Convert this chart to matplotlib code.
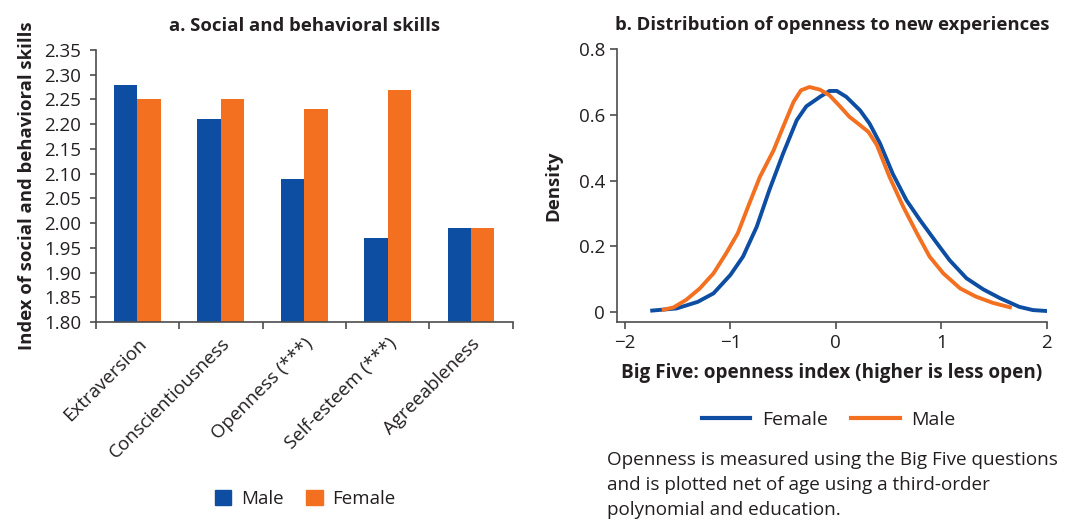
import matplotlib.pyplot as plt
from matplotlib.patches import Patch
from matplotlib.lines import Line2D
import numpy as np

plt.rcParams['font.family'] = ['Open Sans', 'DejaVu Sans']

BLUE = '#0d4ea3'
ORANGE = '#f37021'
TXT = '#231f20'
AXC = '#4d4d4d'
BOLD = 13.3
TICK = 13.5

# panel a: mean index by trait
traits = ['Extraversion', 'Conscientiousness', 'Openness (***)', 'Self-esteem (***)', 'Agreeableness']
male = [2.28, 2.21, 2.09, 1.97, 1.99]
female = [2.25, 2.25, 2.23, 2.27, 1.99]
yticks_a = [1.80, 1.85, 1.90, 1.95, 2.00, 2.05, 2.10, 2.15, 2.20, 2.25, 2.30, 2.35]

# panel b: kernel density of openness index
fem_x = [-1.76, -1.51, -1.31, -1.16, -1.0, -0.88, -0.75, -0.63, -0.5, -0.37, -0.28, -0.15,
         -0.06, 0.01, 0.10, 0.23, 0.32, 0.42, 0.54, 0.67, 0.80, 0.95, 1.08, 1.24, 1.40,
         1.56, 1.74, 1.87, 2.01]
fem_y = [0.003, 0.010, 0.030, 0.056, 0.112, 0.168, 0.259, 0.371, 0.482, 0.584, 0.626, 0.655,
         0.673, 0.673, 0.655, 0.614, 0.574, 0.513, 0.421, 0.340, 0.279, 0.213, 0.157, 0.102,
         0.068, 0.041, 0.015, 0.005, 0.002]
male_x = [-1.65, -1.54, -1.42, -1.29, -1.16, -1.04, -0.93, -0.82, -0.72, -0.59, -0.50, -0.40,
          -0.33, -0.25, -0.15, -0.06, 0.04, 0.13, 0.21, 0.31, 0.39, 0.51, 0.64, 0.77, 0.89,
          1.02, 1.18, 1.33, 1.49, 1.67]
male_y = [0.005, 0.013, 0.036, 0.071, 0.117, 0.178, 0.239, 0.330, 0.411, 0.492, 0.563, 0.640,
          0.675, 0.685, 0.677, 0.660, 0.626, 0.594, 0.574, 0.548, 0.508, 0.411, 0.320, 0.239,
          0.168, 0.117, 0.071, 0.046, 0.027, 0.012]

fig = plt.figure(figsize=(10.65, 5.2), dpi=100)


def style_axes(a):
    for s in ['top', 'right']:
        a.spines[s].set_visible(False)
    for s in ['left', 'bottom']:
        a.spines[s].set_color(AXC)
        a.spines[s].set_linewidth(1.2)


# ---- panel a
ax = fig.add_axes([0.0899, 0.3808, 0.3915, 0.5230])
idx = np.arange(len(traits))
w = 0.28
ax.bar(idx - w / 2, [m - 1.8 for m in male], w, bottom=1.8, color=BLUE)
ax.bar(idx + w / 2, [f - 1.8 for f in female], w, bottom=1.8, color=ORANGE)
ax.set_xlim(-0.5, 4.5)
ax.set_ylim(1.80, 2.35)
ax.set_yticks(yticks_a)
ax.set_yticklabels([f'{v:.2f}' for v in yticks_a], fontsize=TICK, color=TXT)
ax.set_xticks(np.arange(-0.5, 5, 1.0))
ax.set_xticklabels([])
ax.set_xticks(idx, minor=True)
ax.set_xticklabels(traits, minor=True, rotation=45, ha='right', va='top',
                   rotation_mode='anchor', fontsize=TICK, color=TXT)
ax.tick_params(axis='x', which='minor', length=0, pad=9)
ax.tick_params(axis='x', which='major', length=5, width=1.2, color=AXC)
ax.tick_params(axis='y', length=4.5, width=1.2, color=AXC, pad=6)
style_axes(ax)
ax.set_title('a. Social and behavioral skills', fontsize=BOLD, fontweight='bold',
             color=TXT, pad=14)
ax.set_ylabel('Index of social and behavioral skills', fontsize=BOLD, fontweight='bold',
              color=TXT, labelpad=6)
fig.legend(handles=[Patch(color=BLUE, label='Male'), Patch(color=ORANGE, label='Female')],
           loc='center', bbox_to_anchor=(0.2864, 0.0404), ncol=2, frameon=False,
           fontsize=TICK, handlelength=0.9, handleheight=0.9, handletextpad=0.5,
           columnspacing=1.2, labelcolor=TXT)

# ---- panel b
bx = fig.add_axes([0.5793, 0.3813, 0.4037, 0.5239])
bx.plot(fem_x, fem_y, color=BLUE, lw=2.8, solid_capstyle='butt')
bx.plot(male_x, male_y, color=ORANGE, lw=2.8, solid_capstyle='butt')
bx.set_xlim(-2.076, 2.003)
bx.set_ylim(-0.0305, 0.8)
bx.set_xticks([-2, -1, 0, 1, 2])
bx.set_xticklabels(['\u22122', '\u22121', '0', '1', '2'], fontsize=TICK, color=TXT)
bx.set_yticks([0, 0.2, 0.4, 0.6, 0.8])
bx.set_yticklabels(['0', '0.2', '0.4', '0.6', '0.8'], fontsize=TICK, color=TXT)
bx.tick_params(length=5, width=1.2, color=AXC)
style_axes(bx)
bx.set_title('b. Distribution of openness to new experiences', fontsize=BOLD,
             fontweight='bold', color=TXT, pad=14)
bx.set_ylabel('Density', fontsize=BOLD, fontweight='bold', color=TXT, labelpad=12)
bx.set_xlabel('Big Five: openness index (higher is less open)', fontsize=13.6,
              fontweight='bold', color=TXT, labelpad=8)
fig.legend(handles=[Line2D([], [], color=BLUE, lw=3, label='Female'),
                    Line2D([], [], color=ORANGE, lw=3, label='Male')],
           loc='center', bbox_to_anchor=(0.778, 0.1923), ncol=2, frameon=False,
           fontsize=14, handlelength=2.5, handletextpad=0.6, columnspacing=1.2,
           labelcolor=TXT)

fig.text(0.570, 1 - 451 / 520,
         'Openness is measured using the Big Five questions\n'
         'and is plotted net of age using a third-order\n'
         'polynomial and education.',
         fontsize=13.6, color=TXT, va='top', ha='left', linespacing=1.5)

fig.savefig('out.png', dpi=100)
